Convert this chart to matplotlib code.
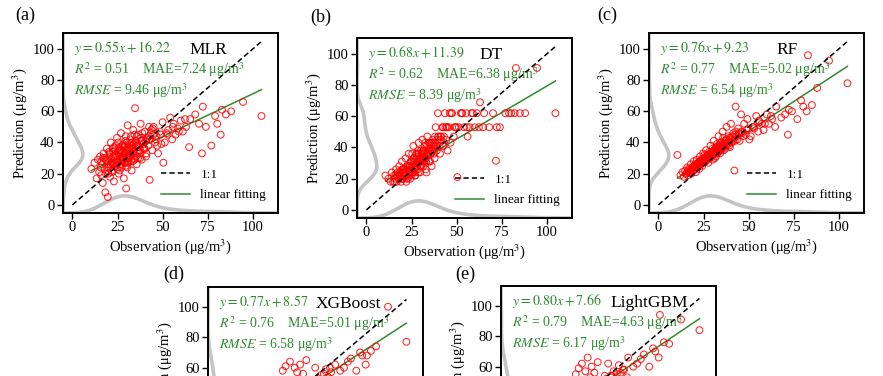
import numpy as np
import matplotlib
matplotlib.use('Agg')
import matplotlib.pyplot as plt

plt.rcParams['font.family'] = 'Liberation Serif'
plt.rcParams['mathtext.fontset'] = 'stix'

# figure size in pixels (dpi 100)
W, H = 883, 376

models = ['MLR', 'DT', 'RF', 'XGBoost', 'LightGBM']
tags = ['(a)', '(b)', '(c)', '(d)', '(e)']
slopes = [0.55, 0.68, 0.76, 0.77, 0.80]
intercepts = [16.22, 11.39, 9.23, 8.57, 7.66]
r2 = [0.51, 0.62, 0.77, 0.76, 0.79]
mae = [7.24, 6.38, 5.02, 5.01, 4.63]
rmse = [9.46, 8.39, 6.54, 6.58, 6.17]

# observed PM2.5 of the test set (shared by all models)
obs = [10.5, 12.2, 13.4, 14.1, 14.8, 15.3, 15.9, 16.4, 16.8, 17.3,
       17.9, 18.2, 18.7, 19.1, 19.6, 20.0, 20.4, 20.8, 21.3, 21.7,
       22.1, 22.6, 23.0, 23.4, 23.9, 24.3, 24.7, 25.1, 25.6, 26.0,
       26.4, 26.9, 27.3, 27.7, 28.1, 28.5, 28.9, 29.3, 29.8, 30.2,
       30.6, 31.0, 31.5, 31.9, 32.4, 32.8, 33.3, 33.7, 34.2, 34.7,
       35.1, 35.6, 36.2, 36.7, 37.3, 37.8, 38.4, 39.0, 39.6, 40.2,
       40.8, 41.5, 42.1, 42.8, 43.5, 44.2, 45.0, 45.8, 46.6, 47.5,
       48.4, 49.3, 19.8, 22.9, 25.4, 27.0, 28.7, 30.0, 31.2, 32.6,
       34.0, 29.5, 26.7, 24.0, 21.0, 35.9, 38.0, 33.0, 30.9, 27.9,
       18.5, 16.1, 40.5, 43.0, 36.5, 28.3, 24.9, 31.7, 44.8, 37.0,
       104.8, 94.6, 82.9, 88.0, 82.2, 79.1, 77.0, 72.3, 71.8, 70.2,
       68.1, 65.3, 64.7, 63.0, 61.2, 60.1, 58.3, 57.2, 56.1, 55.3,
       54.2, 53.1, 52.3, 51.2, 50.4, 74.0, 80.3, 85.1,
       18.9, 20.6, 21.9, 23.2, 24.6, 25.8, 26.2, 27.5, 28.0, 29.1,
       29.9, 30.4, 31.3, 32.1, 32.9, 33.5, 34.4, 35.3, 36.0, 37.5,
       19.4, 21.5, 22.4, 23.7, 24.1, 25.3, 26.6, 27.1, 28.4, 29.6,
       30.8, 31.6, 32.2, 33.9, 34.9, 36.4, 38.7, 39.8, 41.2, 42.5,
       17.6, 19.9, 21.1, 22.7, 23.6, 25.0, 26.1, 27.8, 28.8, 30.1,
       31.8, 33.1, 34.6, 35.8, 37.6, 39.3, 41.0, 43.8, 46.2, 48.9,
       15.6, 17.0, 20.2, 22.3, 24.4, 26.8, 29.0, 30.5, 32.7, 35.4,
       38.2, 40.0, 42.4, 44.5, 47.0, 50.0, 52.8, 55.7, 59.0, 62.4]

pred_mlr = [23, 27, 17, 29, 21, 31, 19, 26, 14, 33,
            23, 8, 29, 36, 5, 24, 31, 18, 40, 27,
            22, 34, 15, 30, 38, 25, 43, 28, 20, 35,
            31, 46, 24, 38, 29, 17, 33, 41, 10.5, 36,
            51, 27, 39, 32, 44, 22, 36, 48, 30, 62,
            40, 26, 37, 45, 33, 52, 29, 41, 36, 47,
            31, 43, 38, 16, 46, 35, 50, 40, 44, 33,
            47, 39, 30, 26, 33, 28, 37, 30, 35, 28,
            39, 25, 29, 32, 24, 33, 43, 40, 31, 34,
            20, 28, 41, 42, 38, 32, 27, 36, 45, 35,
            57, 66, 61, 60, 45, 57, 38, 63, 33, 52,
            58, 55, 37, 50, 47, 54, 49, 45, 52, 42,
            56, 48, 46, 40, 27, 50, 52, 58,
            28, 33, 21, 37, 26, 34, 22, 31, 39, 27,
            35, 24, 30, 42, 33, 28, 45, 31, 38, 30,
            22, 29, 36, 27, 32, 40, 25, 35, 30, 44,
            28, 37, 31, 34, 41, 30, 46, 36, 42, 50,
            30, 20, 26, 31, 35, 23, 37, 30, 27, 40,
            33, 38, 29, 44, 35, 39, 33, 48, 42, 45,
            24, 30, 34, 26, 29, 33, 38, 27, 35, 39,
            41, 36, 44, 49, 38, 53, 45, 50, 47, 55]

pred_dt = [22, 20, 18, 24, 18, 22, 20, 26, 18, 24,
           20, 28, 22, 18, 31, 24, 20, 26, 22, 33,
           18, 28, 24, 36, 26, 20, 31, 28, 24, 41,
           33, 22, 28, 36, 31, 26, 43, 33, 24, 38,
           31, 45, 28, 36, 41, 33, 24, 47, 38, 31,
           43, 36, 28, 45, 41, 33, 53, 38, 62, 43,
           36, 47, 53, 41, 62, 45, 38, 53, 43, 62,
           47, 53, 26, 20, 36, 31, 38, 28, 33, 43,
           36, 31, 24, 28, 24, 41, 47, 38, 36, 33,
           24, 22, 41, 47, 38, 28, 22, 31, 53, 43,
           62, 91, 91, 62, 62, 62, 62, 53, 31.5, 62,
           53, 62, 53, 69, 62, 53, 62, 53, 47, 62,
           53, 62, 62, 53, 21, 53, 62, 62,
           24, 26, 22, 28, 31, 24, 33, 26, 28, 36,
           31, 28, 38, 33, 26, 41, 36, 31, 43, 36,
           20, 22, 26, 24, 28, 31, 26, 22, 36, 28,
           33, 38, 31, 36, 43, 38, 41, 47, 45, 53,
           22, 20, 24, 28, 22, 26, 31, 36, 24, 33,
           38, 31, 43, 36, 41, 45, 47, 53, 62, 53,
           18, 22, 26, 20, 24, 28, 31, 36, 33, 38,
           43, 47, 41, 53, 62, 53, 62, 53, 62, 53]

pred_rf = [32, 19, 21, 18, 22, 20, 24, 19, 23, 21,
           26, 20, 24, 22, 28, 23, 26, 21, 29, 24,
           27, 23, 31, 26, 29, 25, 33, 27, 30, 28,
           35, 29, 32, 27, 34, 30, 38, 31, 34, 29,
           41, 33, 36, 31, 39, 34, 44, 36, 33, 40,
           37, 47, 35, 41, 38, 50, 39, 44, 37, 52,
           42, 46, 22, 63, 44, 49, 41, 58, 46, 52,
           45, 55, 25, 28, 32, 30, 33, 36, 30, 37,
           38, 32, 31, 28, 25, 43, 42, 35, 35, 30,
           22, 21, 40, 47, 39, 32, 29, 34, 46, 36,
           78, 92.5, 96, 75, 60, 67, 55, 61, 45, 58,
           56, 63, 50, 55, 52, 58, 48, 52, 53, 47,
           57, 49, 50, 44, 42, 60, 63, 64,
           24, 25, 27, 26, 29, 30, 28, 31, 30, 33,
           32, 34, 33, 35, 34, 37, 35, 38, 37, 41,
           22, 25, 26, 28, 27, 30, 29, 32, 31, 34,
           35, 33, 37, 36, 38, 40, 39, 43, 41, 45,
           21, 24, 25, 27, 28, 28, 30, 31, 33, 32,
           36, 34, 39, 37, 42, 38, 44, 42, 47, 48,
           20, 22, 23, 26, 27, 29, 31, 34, 33, 36,
           40, 43, 41, 46, 44, 49, 50, 54, 52, 57]

pred_xgb = [28, 18, 22, 19, 24, 21, 20, 25, 22, 20,
            24, 27, 22, 25, 23, 29, 24, 27, 23, 30,
            25, 28, 26, 33, 27, 30, 26, 32, 28, 36,
            29, 31, 35, 29, 32, 39, 31, 34, 30, 37,
            33, 43, 34, 36, 32, 40, 35, 38, 46, 37,
            41, 36, 58, 40, 44, 61, 39, 47, 42, 64,
            45, 50, 41, 60, 46, 57, 44, 62, 49, 56,
            47, 65, 26, 29, 30, 33, 35, 32, 38, 36,
            40, 35, 28, 31, 26, 42, 45, 37, 33, 33,
            21, 23, 43, 48, 38, 30, 29, 35, 52, 39,
            77, 100, 68, 74, 62, 70, 58, 64, 48, 60,
            58, 62, 52, 57, 54, 59, 50, 55, 52, 48,
            60, 50, 51, 46, 44, 66, 68, 71,
            23, 26, 26, 28, 28, 31, 29, 30, 32, 32,
            34, 33, 35, 34, 36, 36, 38, 37, 39, 40,
            23, 24, 27, 27, 29, 29, 30, 31, 33, 33,
            34, 35, 36, 38, 37, 41, 40, 42, 44, 43,
            22, 23, 26, 26, 29, 27, 31, 30, 32, 34,
            35, 36, 38, 39, 41, 40, 43, 45, 46, 50,
            21, 21, 24, 25, 28, 28, 32, 33, 35, 35,
            39, 42, 44, 45, 47, 48, 52, 53, 56, 60]

pred_lgbm = [25, 17, 20, 22, 19, 23, 21, 20, 24, 22,
             21, 25, 23, 27, 22, 25, 28, 24, 26, 31,
             24, 27, 29, 25, 32, 27, 29, 34, 28, 31,
             27, 35, 30, 33, 29, 37, 32, 30, 35, 33,
             40, 32, 36, 34, 43, 35, 38, 34, 41, 36,
             48, 38, 55, 41, 39, 59, 43, 46, 62, 44,
             49, 57, 42, 66, 47, 53, 60, 45, 56, 50,
             63, 48, 24, 26, 29, 31, 34, 31, 35, 37,
             36, 33, 30, 28, 25, 40, 44, 39, 34, 31,
             23, 20, 42, 50, 37, 33, 27, 33, 48, 42,
             84, 91, 94, 75, 66, 72, 60, 65, 50, 62,
             60, 66, 53, 58, 56, 61, 52, 57, 54, 50,
             62, 52, 54, 48, 46, 68, 70, 76,
             22, 25, 27, 26, 29, 29, 30, 30, 31, 32,
             33, 35, 34, 36, 35, 38, 37, 39, 38, 42,
             23, 24, 26, 27, 28, 31, 29, 31, 32, 34,
             36, 34, 37, 37, 39, 39, 41, 42, 44, 46,
             21, 23, 25, 27, 27, 28, 29, 32, 31, 33,
             35, 35, 38, 38, 40, 41, 43, 44, 46, 49,
             20, 22, 24, 25, 27, 30, 31, 33, 34, 36,
             40, 41, 44, 46, 47, 49, 51, 54, 55, 58]

preds = [pred_mlr, pred_dt, pred_rf, pred_xgb, pred_lgbm]

# layout: top-left corner of each axes box in pixels
boxes = [(63, 33), (357, 38), (649, 33), (208, 287), (501, 286)]
tag_xy = [(15, 15), (310, 17), (597, 15), (163, 274), (455, 274)]
name_x = [0.59, 0.57, 0.595, 0.50, 0.507]
ytop = [110.25, 110.25, 110.25, 113, 113]
AX_W, AX_H = 215, 180
XLIM = (-5.25, 114)
YBOT = -5.25

green = '#2e8b2e'
gray = '#c4c4c4'


def kde(vals, grid):
    vals = np.asarray(vals, dtype=float)
    bw = 1.06 * vals.std() * len(vals) ** (-0.2)
    d = np.exp(-0.5 * ((grid[:, None] - vals[None, :]) / bw) ** 2).sum(axis=1)
    return d / d.max()


fig = plt.figure(figsize=(W / 100, H / 100), dpi=100)

for i in range(len(models)):
    x0, y0 = boxes[i]
    ax = fig.add_axes([x0 / W, 1 - (y0 + AX_H) / H, AX_W / W, AX_H / H])
    ax.set_xlim(*XLIM)
    ax.set_ylim(YBOT, ytop[i])

    ob = np.array(obs)
    pr = np.array(preds[i])

    # marginal density curves along the bottom and left spines
    gx = np.linspace(XLIM[0], XLIM[1], 300)
    ax.plot(gx, YBOT + 11 * kde(ob, gx), color=gray, lw=2.6, zorder=1,
            solid_capstyle='round')
    gy = np.linspace(YBOT, ytop[i], 300)
    ax.plot(XLIM[0] + 11 * kde(pr, gy), gy, color=gray, lw=2.6, zorder=1,
            solid_capstyle='round')

    # fitted line and 1:1 line
    fx = np.array([ob.min(), ob.max()])
    ax.plot(fx, slopes[i] * fx + intercepts[i], color=green, lw=1.1,
            zorder=2, label='linear fitting')
    ax.scatter(ob, pr, s=24, facecolors='none', edgecolors='red',
               linewidths=0.75, alpha=0.85, zorder=3)
    ax.plot([0, ob.max()], [0, ob.max()], 'k--', lw=1.1, dashes=(3.5, 2),
            zorder=4, label='1:1')

    h, l = ax.get_legend_handles_labels()
    ax.legend(h[::-1], l[::-1], loc='lower right', frameon=False,
              fontsize=9.5, handlelength=2.2, labelspacing=0.6)

    # statistics text
    ax.text(0.05, 0.915, r'$y=%.2fx+%.2f$' % (slopes[i], intercepts[i]),
            transform=ax.transAxes, color=green, fontsize=10, va='center')
    ax.text(0.05, 0.795, r'$R^2$ = %.2f    MAE=%.2f μg/m$^3$' % (r2[i], mae[i]),
            transform=ax.transAxes, color=green, fontsize=10, va='center')
    ax.text(0.05, 0.68, r'$RMSE$ = %.2f μg/m$^3$' % rmse[i],
            transform=ax.transAxes, color=green, fontsize=10, va='center')
    ax.text(name_x[i], 0.905, models[i], transform=ax.transAxes,
            fontsize=12.5, va='center')

    ax.set_xticks([0, 25, 50, 75, 100])
    ax.set_yticks([0, 20, 40, 60, 80, 100])
    ax.tick_params(direction='out', length=4, width=1, labelsize=10.5,
                   pad=2, top=False, right=False)
    for sp in ax.spines.values():
        sp.set_linewidth(1.4)
    ax.set_xlabel('Observation (μg/m$^3$)', fontsize=10.5, labelpad=2)
    ax.set_ylabel('Prediction (μg/m$^3$)', fontsize=10.5, labelpad=3)

    tx, ty = tag_xy[i]
    fig.text(tx / W, 1 - ty / H, tags[i], fontsize=13, va='center')

fig.savefig('out.png', dpi=100)
